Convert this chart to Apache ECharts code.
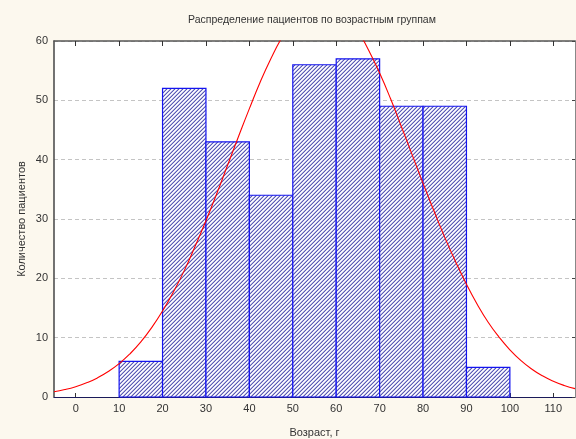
<!DOCTYPE html>
<html><head><meta charset="utf-8">
<script src="https://cdn.jsdelivr.net/npm/echarts@6/dist/echarts.min.js"></script>
<style>html,body{margin:0;padding:0;background:#fcf8ee;}#c{width:576px;height:439px;}</style>
</head><body><div id="c"></div>
<script>
const titleText = 'Распределение пациентов по возрастным группам';
const xName = 'Возраст, г';
const yName = 'Количество пациентов';
const binStart = [10, 20, 30, 40, 50, 60, 70, 80, 90];
const binEnd = [20, 30, 40, 50, 60, 70, 80, 90, 100];
const counts = [6, 52, 43, 34, 56, 57, 49, 49, 5];
const xTicks = [0, 10, 20, 30, 40, 50, 60, 70, 80, 90, 100, 110];
const curveX = [-5,-2.5,0,2.5,5,7.5,10,12.5,15,17.5,20,22.5,25,27.5,30,32.5,35,37.5,40,42.5,45,47.5,50,52.5,55,57.5,60,62.5,65,67.5,70,72.5,75,77.5,80,82.5,85,87.5,90,92.5,95,97.5,100,102.5,105,107.5,110,112.5,115];
const curveY = [0.89,1.25,1.74,2.39,3.22,4.29,5.62,7.28,9.28,11.7,14.5,17.7,21.3,25.4,29.7,34.3,39.1,43.9,48.6,53.1,57.1,60.6,63.4,65.4,66.5,66.7,65.9,64.2,61.7,58.4,54.6,50.3,45.6,40.8,36.0,31.4,26.9,22.8,19.0,15.6,12.6,10.1,7.96,6.18,4.73,3.57,2.66,1.95,1.41];

// hatch pattern
const pc = document.createElement('canvas');
pc.width = 4; pc.height = 4;
const g = pc.getContext('2d');
for (let x = 0; x < 4; x++) for (let y = 0; y < 4; y++) {
  const k = (x + y) % 4;
  g.fillStyle = k === 3 ? '#5c5cb2' : (k === 2 ? '#b2b2e2' : (k === 0 ? '#e6e6f6' : '#ffffff'));
  g.fillRect(x, y, 1, 1);
}
const hatch = {image: pc, repeat: 'repeat'};

const barData = binStart.map((s, i) => [s, binEnd[i], counts[i]]);
const curveData = curveX.map((x, i) => [x, curveY[i]]);

const font = 'Liberation Sans, Arial, sans-serif';
const chart = echarts.init(document.getElementById('c'), null, {renderer: 'canvas'});
chart.setOption({
  backgroundColor: '#fcf8ee',
  animation: false,
  graphic: [{
    type: 'text', x: 312, y: 15,
    style: {text: titleText, font: '10.5px ' + font, fill: '#333', align: 'center', textAlign: 'center'}
  }],
  grid: {left: 54, right: 1, top: 41, bottom: 42, show: true, backgroundColor: '#ffffff', borderWidth: 0, containLabel: false, outerBoundsMode: 'none'},
  xAxis: [{
    type: 'value', min: -5, max: 115, position: 'bottom',
    name: xName, nameLocation: 'middle', nameGap: 30, nameMoveOverlap: false,
    nameTextStyle: {fontFamily: font, fontSize: 11, color: '#333'},
    axisLine: {show: true, onZero: false, lineStyle: {color: '#1a1a5a', width: 1}},
    axisTick: {show: true, inside: true, length: 4, customValues: xTicks, lineStyle: {color: '#333'}},
    axisLabel: {customValues: xTicks, fontFamily: font, fontSize: 11, color: '#333', margin: 6},
    splitLine: {show: false}
  }, {
    type: 'value', min: -5, max: 115, position: 'top',
    axisLine: {show: true, onZero: false, lineStyle: {color: '#555', width: 1.5}},
    axisTick: {show: true, inside: true, length: 5, customValues: xTicks, lineStyle: {color: '#333'}},
    axisLabel: {show: false},
    splitLine: {show: false}
  }],
  yAxis: [{
    type: 'value', min: 0, max: 60, interval: 10, position: 'left',
    name: yName, nameLocation: 'middle', nameGap: 27, nameMoveOverlap: false,
    nameTextStyle: {fontFamily: font, fontSize: 11, color: '#333'},
    axisLine: {show: true, onZero: false, lineStyle: {color: '#444', width: 1.5}},
    axisTick: {show: false},
    axisLabel: {fontFamily: font, fontSize: 11, color: '#333', margin: 6},
    splitLine: {show: true, lineStyle: {color: '#c4c4c4', type: [4, 3], width: 1}}
  }, {
    type: 'value', min: 0, max: 60, interval: 10, position: 'right',
    axisLine: {show: true, onZero: false, lineStyle: {color: '#888', width: 1}},
    axisTick: {show: true, inside: true, length: 3, lineStyle: {color: '#444'}},
    axisLabel: {show: false},
    splitLine: {show: false}
  }],
  series: [{
    type: 'custom',
    xAxisIndex: 0, yAxisIndex: 0,
    data: barData,
    encode: {x: [0, 1], y: 2},
    renderItem: function (params, api) {
      const p0 = api.coord([api.value(0), api.value(2)]);
      const p1 = api.coord([api.value(1), 0]);
      return {
        type: 'rect',
        shape: {x: p0[0], y: p0[1], width: p1[0] - p0[0], height: p1[1] - p0[1]},
        style: {fill: hatch, stroke: '#1414f0', lineWidth: 1.2}
      };
    },
    z: 2
  }, {
    type: 'line',
    xAxisIndex: 0, yAxisIndex: 0,
    data: curveData,
    smooth: true,
    showSymbol: false,
    clip: true,
    lineStyle: {color: '#ff0000', width: 1.1},
    z: 3
  }]
});
</script></body></html>
